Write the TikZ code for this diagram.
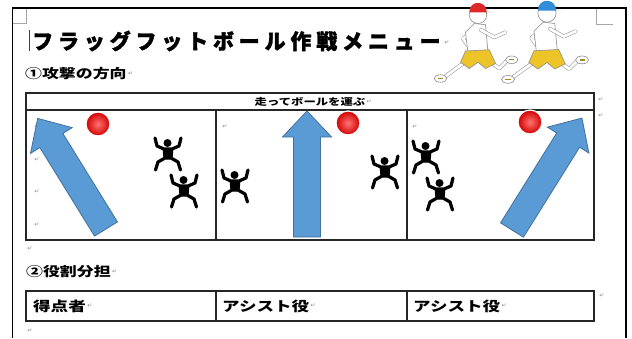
\documentclass[tikz,border=0pt]{standalone}
\usepackage{fontspec}
\usepackage{graphicx}
\usepackage{xcolor}
\usepackage{tikz}
\usetikzlibrary{positioning}

\newfontfamily\jpfont{Noto Sans CJK JP}
\newfontfamily\jptitle{Noto Sans CJK JP}[LetterSpace=23, BoldFeatures={FakeBold=1.6}]
\newfontfamily\markfont{DejaVu Sans}
\newcommand\wide[1]{\scalebox{1.3}[1]{#1}}

\definecolor{arrowfill}{RGB}{91,155,213}
\definecolor{arrowline}{RGB}{65,113,156}
\definecolor{shortsyellow}{RGB}{236,196,40}
\definecolor{capred}{RGB}{222,40,40}
\definecolor{capblue}{RGB}{50,140,215}

\begin{document}
\begin{tikzpicture}[x=1pt,y=-1pt,
      cell_box/.style={
         draw=black!85,
         line width=1.6pt,
         inner sep=0pt,
         outer sep=0pt,
         anchor=north west},
      cell_txt/.style={
         anchor=west,
         inner sep=0pt,
         font=\jpfont\bfseries\fontsize{13.5}{14}\selectfont},
      sec_txt/.style={
         anchor=west,
         inner sep=0pt,
         font=\jpfont\bfseries\fontsize{13}{14}\selectfont},
      ret_mark/.style={
         text=black!45,
         inner sep=0pt,
         font=\markfont\fontsize{6}{6}\selectfont},
      ball_red/.style={
         circle,
         inner color=red!55!white,
         outer color=red!82!black,
         draw=white,
         line width=1.2pt,
         minimum size=24pt,
         inner sep=0pt},
      arrow_blue/.style={
         fill=arrowfill,
         draw=arrowline,
         line width=0.8pt},
      limb/.style={
         draw=black!45,
         double=white,
         double distance=2.8pt,
         line width=0.5pt,
         line cap=round,
         line join=round},
      crop_mark/.style={
         draw=black!35,
         line width=0.9pt},
      pics/jumper/.style={code={
         \fill (-0.5,-12) circle (4);
         \draw[line width=3.2pt, line cap=round, line join=round]
            (-13,-17) -- (-11,-9) -- (-4,-6) -- (4,-6) -- (11,-9) -- (13,-17);
         \fill (-5.5,-7) -- (5.5,-7) -- (4.5,4) -- (-4.5,4) -- cycle;
         \draw[line width=3.2pt, line cap=round, line join=round]
            (-12.5,15) -- (-10,7) -- (-3,3) -- (3,3) -- (10,7) -- (12.5,15);
      }},
      pics/big_arrow/.style={code={
         \draw[arrow_blue] (0,-13.5) -- (#1-26,-13.5) -- (#1-26,-24.5) -- (#1,0)
            -- (#1-26,24.5) -- (#1-26,13.5) -- (0,13.5) -- cycle;
      }},
      pics/runner/.style={code={
         % back arm, legs, shoes
         \draw[limb] (-3,-21) -- (-12,-14) -- (-8,-8);
         \draw[limb] (-9,4) -- (-19,11) -- (-27,17);
         \draw[limb] (9,4) -- (17,10) -- (23,4);
         \draw[fill=white, draw=black!45, line width=0.6pt] (-30,18) ellipse (5 and 3);
         \draw[fill=white, draw=black!45, line width=0.6pt] (27,3) ellipse (5 and 3);
         \draw[shortsyellow!70!black, line width=1.2pt] (-32,18) -- (-28,18) (25,3) -- (29,3);
         % shirt and shorts
         \draw[fill=white, draw=black!45, line width=0.6pt]
            (-8,-2) -- (-10,-19) -- (-3,-26) -- (6,-25) -- (8,-3) -- cycle;
         \draw[fill=shortsyellow, draw=black!45, line width=0.6pt]
            (-10,-4) -- (9,-5) -- (14,6) -- (6,10) -- (0,5) -- (-7,10) -- (-14,5) -- cycle;
         \draw[limb] (2,-21) -- (13,-15) -- (22,-19);
         % head and cap
         \draw[fill=white, draw=black!45, line width=0.6pt] (0,-33) circle (7);
         \fill[#1] (-7,-35) .. controls (-7,-45) and (7,-45) .. (7,-35) -- (11,-35) -- cycle;
      }}
]
      \fill[white] (0,0) rectangle (632,338);
      \useasboundingbox (0,0) rectangle (632,338);

      %page frame
      \draw[line width=1.2pt] (12.5,338) -- (12.5,8) -- (626,8) -- (626,338);
      \draw[crop_mark] (13,23) -- (26,23) -- (26,8.6);
      \draw[crop_mark] (596,9) -- (596,24) -- (613,24);

      %title
      \draw[black!75, line width=0.9pt] (29,30) -- (29,51);
      \node[anchor=west, inner sep=0pt, font=\jptitle\bfseries\fontsize{21}{22}\selectfont]
         (title) at (32,41) {フラッグフットボール作戦メニュー};
      \node[ret_mark] (ret_title) at (447,43) {↵};
      \pic[scale=1.25] at (478,56) {runner=capred};
      \pic[scale=1.3] at (547,56) {runner=capblue};

      %first table
      \node[sec_txt] (sec1) at (25,74) {\wide{①攻撃の方向}};
      \node[ret_mark, right=1pt of sec1] (ret_sec1) {↵};

      \node[cell_box, minimum width=568pt, minimum height=17pt] (head) at (26,93) {};
      \node[cell_box, minimum width=190pt, minimum height=130pt] (p1) at (26,110) {};
      \node[cell_box, minimum width=191pt, minimum height=130pt, right=0pt of p1] (p2) {};
      \node[cell_box, minimum width=187pt, minimum height=130pt, right=0pt of p2] (p3) {};

      \node[inner sep=0pt, font=\jpfont\bfseries\fontsize{9.5}{10}\selectfont]
         (head_txt) at (head.center) {\wide{走ってボールを運ぶ}};
      \node[ret_mark, right=1pt of head_txt] (ret_head) {↵};

      \foreach \mx/\my [count=\k] in {% empty lines in the cells
        37/127, 37/160, 37/192, 37/225, 225/127, 415/127, 601/100, 601/116, 30/249}
      \node[ret_mark] (ret\k) at (\mx,\my) {↵};

      \foreach \ax/\ay/\ang/\len in {% tail/turn/length
        106/229/121.7/130,
        307/237/90/126,
        512/230/58/132}
      \pic[rotate=\ang] at (\ax,\ay) {big_arrow=\len};

      \foreach \bx/\by [count=\k] in {98/124, 348/123, 530/122}
      \node[ball_red] (ball\k) at (\bx,\by) {};

      \foreach \fx/\fy in {168/155, 184/192, 235/187, 385/173, 426/158, 440/195}
      \pic at (\fx,\fy) {jumper};

      %second table
      \node[sec_txt] (sec2) at (26,272) {\wide{②役割分担}};
      \node[ret_mark, right=1pt of sec2] (ret_sec2) {↵};

      \node[cell_box, minimum width=190pt, minimum height=30pt] (c1) at (26,291) {};
      \node[cell_box, minimum width=191pt, minimum height=30pt, right=0pt of c1] (c2) {};
      \node[cell_box, minimum width=187pt, minimum height=30pt, right=0pt of c2] (c3) {};

      \node[cell_txt, right=7pt of c1.west] (t1) {\wide{得点者}};
      \node[cell_txt, right=6pt of c2.west] (t2) {\wide{アシスト役}};
      \node[cell_txt, right=6pt of c3.west] (t3) {\wide{アシスト役}};
      \foreach \t in {t1,t2,t3}
      \node[ret_mark, right=1pt of \t] (ret_\t) {↵};
      \node[ret_mark] (ret_tab) at (602,296) {↵};
      \node[ret_mark] (ret_end) at (30,331) {↵};

\end{tikzpicture}
\end{document}
